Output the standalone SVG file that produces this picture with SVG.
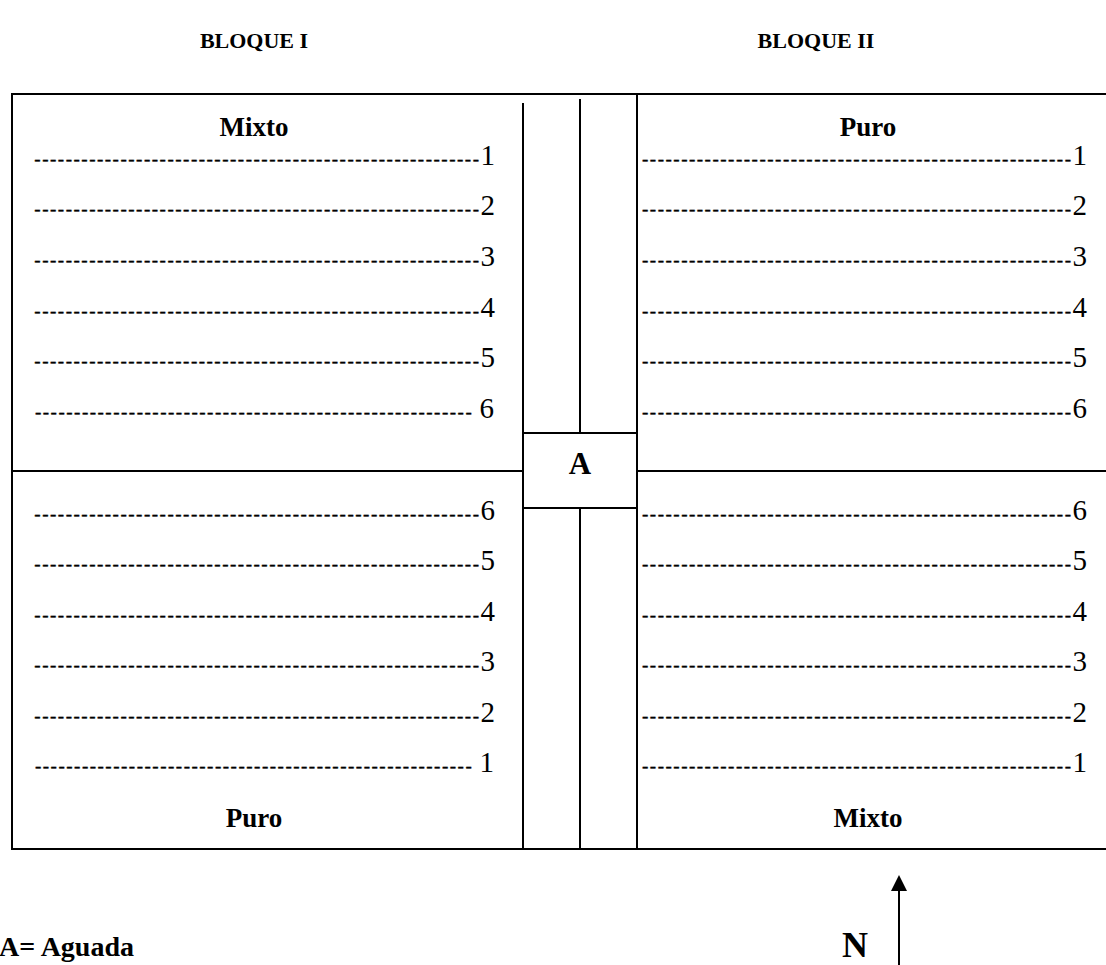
<svg xmlns="http://www.w3.org/2000/svg" width="1106" height="965" viewBox="0 0 1106 965">
  <style>
    .ln { stroke: #000; stroke-width: 2; fill: none; }
    .hd { font-family: "Liberation Serif", "Times New Roman", serif; font-weight: bold; fill: #000; }
    .row { font-family: "Liberation Serif", "Times New Roman", serif; font-size: 29px; fill: #000; text-anchor: end; }
    .row .d { font-size: 19px; letter-spacing: 1.5px; stroke: #000; stroke-width: 0.4; }
  </style>
  <defs>
    <marker id="arrowN" markerWidth="16" markerHeight="16" refX="0" refY="8" orient="auto" markerUnits="userSpaceOnUse" viewBox="0 0 16 16">
      <path d="M0,0 L16,8 L0,16 Z" fill="#000"/>
    </marker>
  </defs>
  <rect width="1106" height="965" fill="#fff"/>

  <!-- block titles -->
  <text class="hd" x="254" y="48" font-size="22" text-anchor="middle">BLOQUE I</text>
  <text class="hd" x="816" y="48" font-size="22" text-anchor="middle">BLOQUE II</text>

  <!-- field outline and divisions -->
  <g id="field" class="ln">
    <path d="M1106,94 H12 V849 H1106"/>
    <line x1="12" y1="471" x2="523" y2="471"/>
    <line x1="637" y1="471" x2="1106" y2="471"/>
    <line x1="523" y1="103" x2="523" y2="849"/>
    <line x1="637" y1="94" x2="637" y2="849"/>
    <line x1="580" y1="99" x2="580" y2="433"/>
    <line x1="580" y1="508" x2="580" y2="849"/>
  </g>

  <!-- watering point -->
  <g id="aguada">
    <rect class="ln" x="523" y="433" width="114" height="75"/>
    <text class="hd" x="580" y="474" font-size="31" text-anchor="middle">A</text>
  </g>

  <!-- Bloque I, upper plot: Mixto -->
  <g id="b1-mixto">
    <text class="hd" x="254" y="136" font-size="27" text-anchor="middle">Mixto</text>
    <text class="row" x="495" y="165"><tspan class="d">---------------------------------------------------------</tspan>1</text>
    <text class="row" x="495" y="215"><tspan class="d">---------------------------------------------------------</tspan>2</text>
    <text class="row" x="495" y="266"><tspan class="d">---------------------------------------------------------</tspan>3</text>
    <text class="row" x="495" y="317"><tspan class="d">---------------------------------------------------------</tspan>4</text>
    <text class="row" x="495" y="367"><tspan class="d">---------------------------------------------------------</tspan>5</text>
    <text class="row" x="494" y="418"><tspan class="d">-------------------------------------------------------- </tspan>6</text>
  </g>

  <!-- Bloque I, lower plot: Puro -->
  <g id="b1-puro">
    <text class="row" x="495" y="520"><tspan class="d">---------------------------------------------------------</tspan>6</text>
    <text class="row" x="495" y="570"><tspan class="d">---------------------------------------------------------</tspan>5</text>
    <text class="row" x="495" y="621"><tspan class="d">---------------------------------------------------------</tspan>4</text>
    <text class="row" x="495" y="671"><tspan class="d">---------------------------------------------------------</tspan>3</text>
    <text class="row" x="495" y="722"><tspan class="d">---------------------------------------------------------</tspan>2</text>
    <text class="row" x="494" y="772"><tspan class="d">-------------------------------------------------------- </tspan>1</text>
    <text class="hd" x="254" y="827" font-size="27" text-anchor="middle">Puro</text>
  </g>

  <!-- Bloque II, upper plot: Puro -->
  <g id="b2-puro">
    <text class="hd" x="868" y="136" font-size="27" text-anchor="middle">Puro</text>
    <text class="row" x="1087" y="165"><tspan class="d">-------------------------------------------------------</tspan>1</text>
    <text class="row" x="1087" y="215"><tspan class="d">-------------------------------------------------------</tspan>2</text>
    <text class="row" x="1087" y="266"><tspan class="d">-------------------------------------------------------</tspan>3</text>
    <text class="row" x="1087" y="317"><tspan class="d">-------------------------------------------------------</tspan>4</text>
    <text class="row" x="1087" y="367"><tspan class="d">-------------------------------------------------------</tspan>5</text>
    <text class="row" x="1087" y="418"><tspan class="d">-------------------------------------------------------</tspan>6</text>
  </g>

  <!-- Bloque II, lower plot: Mixto -->
  <g id="b2-mixto">
    <text class="row" x="1087" y="520"><tspan class="d">-------------------------------------------------------</tspan>6</text>
    <text class="row" x="1087" y="570"><tspan class="d">-------------------------------------------------------</tspan>5</text>
    <text class="row" x="1087" y="621"><tspan class="d">-------------------------------------------------------</tspan>4</text>
    <text class="row" x="1087" y="671"><tspan class="d">-------------------------------------------------------</tspan>3</text>
    <text class="row" x="1087" y="722"><tspan class="d">-------------------------------------------------------</tspan>2</text>
    <text class="row" x="1087" y="772"><tspan class="d">-------------------------------------------------------</tspan>1</text>
    <text class="hd" x="868" y="827" font-size="27" text-anchor="middle">Mixto</text>
  </g>

  <!-- legend -->
  <text class="hd" x="-1" y="956" font-size="28">A= Aguada</text>

  <!-- north arrow -->
  <g id="north">
    <text class="hd" x="842" y="957" font-size="36">N</text>
    <g class="connectors">
      <line class="ln" x1="899" y1="965" x2="899" y2="891" marker-end="url(#arrowN)"/>
    </g>
  </g>
</svg>
